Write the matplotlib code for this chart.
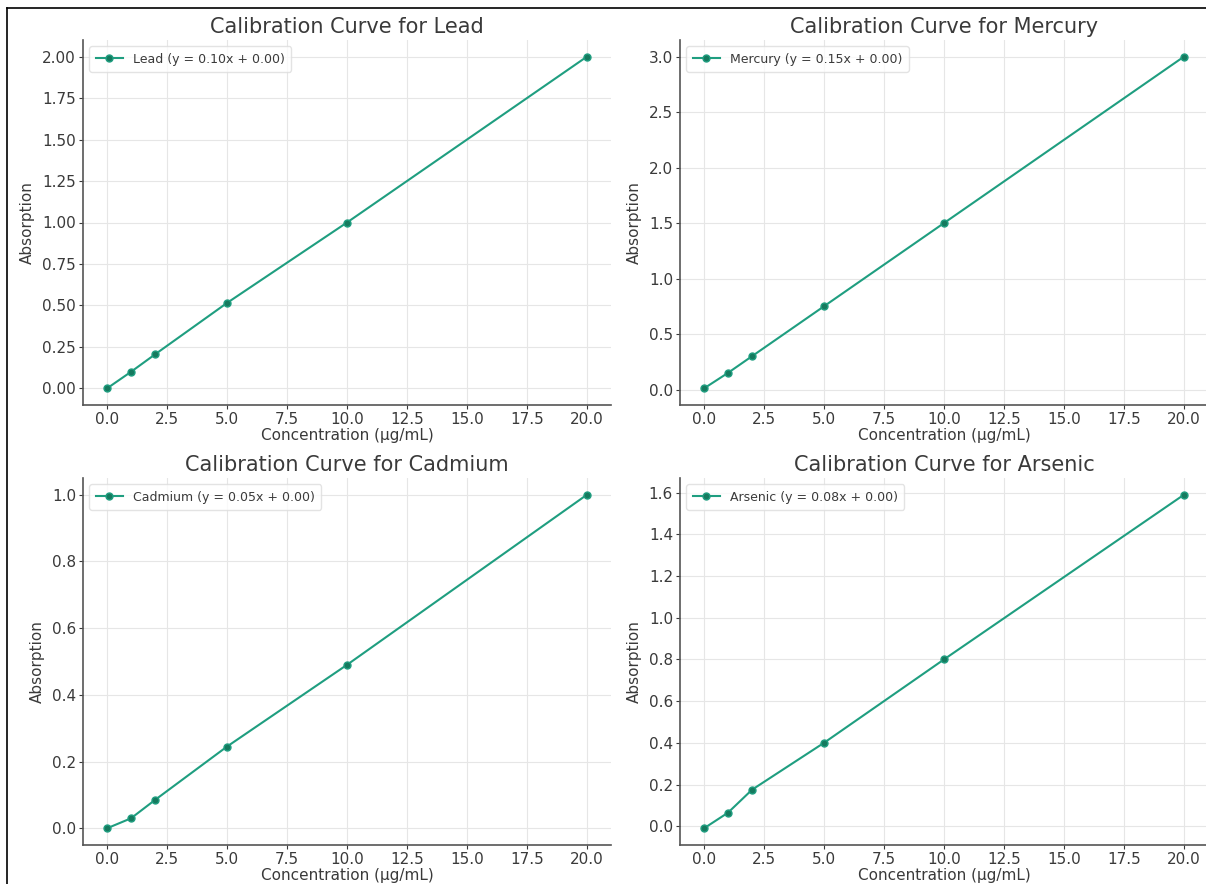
import numpy as np
import matplotlib
matplotlib.use("Agg")
import matplotlib.pyplot as plt
from matplotlib.lines import Line2D

# Calibration data (concentration in ug/mL vs absorption)
conc = [0, 1, 2, 5, 10, 20]
metals = ["Lead", "Mercury", "Cadmium", "Arsenic"]
slopes = [0.10, 0.15, 0.05, 0.08]
intercepts = [0.00, 0.00, 0.00, 0.00]
lead = [0.00, 0.10, 0.205, 0.515, 1.00, 2.00]
mercury = [0.01, 0.15, 0.30, 0.75, 1.50, 3.00]
cadmium = [0.00, 0.03, 0.085, 0.245, 0.49, 1.00]
arsenic = [-0.01, 0.065, 0.175, 0.40, 0.80, 1.59]
absorb = [lead, mercury, cadmium, arsenic]

color = "#1f9e80"
txt = "#3a3a3a"

plt.rcParams["font.family"] = "DejaVu Sans"

fig = plt.figure(figsize=(12.06, 8.84), dpi=100)
W, H = 1206, 884
# axes boxes in pixels: left, top, right, bottom
boxes = [(83, 40, 611, 405), (680, 40, 1208, 405),
         (83, 478, 611, 845), (680, 478, 1208, 845)]
yticks = [np.arange(0, 2.01, 0.25), np.arange(0, 3.01, 0.5),
          np.arange(0, 1.01, 0.2), np.arange(0, 1.61, 0.2)]
yfmt = ["%.2f", "%.1f", "%.1f", "%.1f"]

for i, name in enumerate(metals):
    l, t, r, b = boxes[i]
    ax = fig.add_axes([l / W, 1 - b / H, (r - l) / W, (b - t) / H])
    ax.plot(conc, absorb[i], marker="o", markersize=5, color=color, lw=1.5,
            markerfacecolor="#157a5e", markeredgecolor=color,
            label=f"{name} (y = {slopes[i]:.2f}x + {intercepts[i]:.2f})")
    ax.set_title(f"Calibration Curve for {name}", fontsize=15, color=txt, pad=5)
    ax.set_xlabel("Concentration (µg/mL)", fontsize=11, color=txt, labelpad=1)
    ax.set_ylabel("Absorption", fontsize=11, color=txt, labelpad=5)
    ax.set_xticks(np.arange(0, 20.1, 2.5))
    ax.set_yticks(yticks[i])
    ax.set_xticklabels([f"{v:.1f}" for v in np.arange(0, 20.1, 2.5)])
    ax.set_yticklabels([yfmt[i] % v for v in yticks[i]])
    ax.tick_params(labelsize=11, colors=txt, direction="out", length=3, pad=2)
    ax.grid(True, color="#e6e6e6", lw=0.8)
    ax.set_axisbelow(True)
    for s in ["top", "right"]:
        ax.spines[s].set_visible(False)
    for s in ["left", "bottom"]:
        ax.spines[s].set_color("#555555")
        ax.spines[s].set_linewidth(1.2)
    leg = ax.legend(loc="upper left", fontsize=9, frameon=True, borderpad=0.5,
                    handlelength=2.2)
    leg.get_frame().set_edgecolor("#dddddd")
    for tx in leg.get_texts():
        tx.set_color(txt)

# thin frame of the screenshot
fig.add_artist(Line2D([7 / W, 7 / W], [0, 1 - 8 / H], color="black", lw=1.2))
fig.add_artist(Line2D([7 / W, 1], [1 - 8 / H, 1 - 8 / H], color="black", lw=1.2))

fig.savefig("out.png", dpi=100)
